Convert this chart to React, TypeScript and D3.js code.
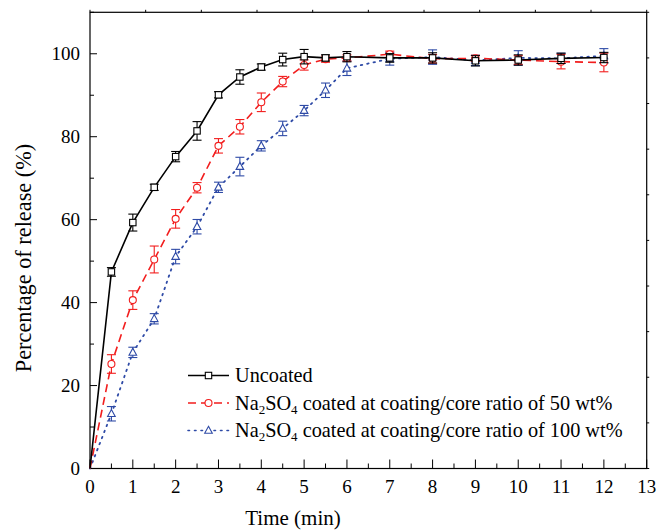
import React from "react";
import * as d3 from "d3";

const times = [0, 0.5, 1, 1.5, 2, 2.5, 3, 3.5, 4, 4.5, 5, 5.5, 6, 7, 8, 9, 10, 11, 12];
const uncoated = [0, 47.4, 59.3, 67.8, 75.2, 81.4, 90.1, 94.4, 96.8, 98.6, 99.3, 99.0, 99.3, 99.0, 99.0, 98.3, 98.5, 98.9, 99.1];
const uncoatedErr = [0, 0.8, 1.8, 0.5, 1.0, 2.0, 0.5, 1.5, 0.5, 1.3, 1.5, 0.5, 1.0, 0.8, 1.0, 1.0, 1.0, 1.0, 1.0];
const coated50 = [0, 25.2, 40.6, 50.4, 60.2, 67.7, 77.8, 82.4, 88.3, 93.3, 97.3, 98.7, 99.0, 99.9, 98.8, 98.9, 98.5, 98.1, 97.9];
const coated50Err = [0, 2.0, 2.0, 3.0, 2.0, 1.0, 1.5, 1.5, 2.0, 1.0, 1.0, 0.5, 0.5, 0.5, 0.8, 0.5, 0.8, 1.5, 2.0];
const coated100 = [0, 13.2, 28.0, 36.1, 51.1, 58.3, 67.8, 72.8, 77.8, 82.0, 86.3, 91.2, 96.5, 98.8, 99.2, 98.4, 99.0, 98.9, 99.5];
const coated100Err = [0, 1.5, 1.0, 1.0, 1.5, 1.5, 1.0, 2.0, 1.0, 1.5, 1.0, 1.5, 1.5, 1.3, 1.5, 1.0, 1.5, 1.0, 1.5];

const xTicks = [0, 1, 2, 3, 4, 5, 6, 7, 8, 9, 10, 11, 12, 13];
const yTicks = [0, 20, 40, 60, 80, 100];

const W = 657, H = 530;
const L = 90, R = 646.7, T = 12.3, B = 468.5;
const FONT = '"Liberation Serif", "Times New Roman", serif';

const BLACK = "#000";
const RED = "#f21d1d";
const BLUE = "#2e4aa6";

type Series = { vals: number[]; errs: number[]; color: string; marker: string; dash: string; name: string };

export default function App() {
  const x = d3.scaleLinear().domain([0, 13]).range([L, R]);
  const y = d3.scaleLinear().domain([0, 110]).range([B, T]);

  const series: Series[] = [
    { vals: coated100, errs: coated100Err, color: BLUE, marker: "tri", dash: "1.5 5", name: "100" },
    { vals: coated50, errs: coated50Err, color: RED, marker: "circ", dash: "8 5", name: "50" },
    { vals: uncoated, errs: uncoatedErr, color: BLACK, marker: "sq", dash: "", name: "un" },
  ];

  const line = d3.line<number>().x((_, i) => x(times[i])).y((v) => y(v));

  const marker = (m: string, cx: number, cy: number, color: string, key: string) => {
    if (m === "sq") return <rect key={key} x={cx - 3.2} y={cy - 3.2} width={6.4} height={6.4} fill="#fff" stroke={color} strokeWidth={1.1} />;
    if (m === "circ") return <circle key={key} cx={cx} cy={cy} r={3.5} fill="#fff" stroke={color} strokeWidth={1.1} />;
    return <path key={key} d={`M${cx},${cy - 4.2}L${cx + 3.8},${cy + 2.8}L${cx - 3.8},${cy + 2.8}Z`} fill="#fff" stroke={color} strokeWidth={1.1} />;
  };

  const minorX = d3.range(0, 13.01, 0.5);
  const minorY = d3.range(0, 110.01, 10);
  const topTicks = d3.range(0, 10.01, 1).map((i) => i * 1.3);
  const rightTicks = d3.range(0, 10.01, 1).map((i) => i * 11);

  const txt = { fontFamily: FONT };

  const legendRows = [
    { color: BLACK, marker: "sq", dash: "", label: <tspan>Uncoated</tspan> },
    {
      color: RED, marker: "circ", dash: "8 5",
      label: <>
        <tspan>Na</tspan><tspan fontSize={13} dy={4}>2</tspan><tspan dy={-4}>SO</tspan><tspan fontSize={13} dy={4}>4</tspan><tspan dy={-4}> coated at coating/core ratio of 50 wt%</tspan>
      </>,
    },
    {
      color: BLUE, marker: "tri", dash: "1.5 5",
      label: <>
        <tspan>Na</tspan><tspan fontSize={13} dy={4}>2</tspan><tspan dy={-4}>SO</tspan><tspan fontSize={13} dy={4}>4</tspan><tspan dy={-4}> coated at coating/core ratio of 100 wt%</tspan>
      </>,
    },
  ];

  return (
    <svg width={W} height={H} style={{ position: "absolute", left: 0, top: 0, background: "#fff", fontFamily: FONT }}>
      <rect x={0} y={0} width={W} height={H} fill="#fff" />
      <rect x={L} y={T} width={R - L} height={B - T} fill="none" stroke="#000" strokeWidth={1.2} />
      {minorX.map((t) => (
        <line key={"bx" + t} x1={x(t)} x2={x(t)} y1={B} y2={B - (Number.isInteger(t) ? 9 : 5)} stroke="#000" strokeWidth={1} />
      ))}
      {xTicks.map((t) => (
        <text key={"xl" + t} style={txt} x={x(t)} y={B + 24.5} textAnchor="middle" fontSize={19}>{t}</text>
      ))}
      {minorY.map((t) => (
        <line key={"ly" + t} x1={L} x2={L + (t % 20 === 0 ? 7 : 4)} y1={y(t)} y2={y(t)} stroke="#000" strokeWidth={1} />
      ))}
      {yTicks.map((t) => (
        <text key={"yl" + t} style={txt} x={L - 10} y={y(t)} dy="0.35em" textAnchor="end" fontSize={19}>{t}</text>
      ))}
      {topTicks.map((t, i) => (
        <line key={"tt" + i} x1={x(t)} x2={x(t)} y1={T} y2={T - 2.5} stroke="#000" strokeWidth={1} />
      ))}
      {rightTicks.map((t, i) => (
        <line key={"rt" + i} x1={R} x2={R + 2.5} y1={y(t)} y2={y(t)} stroke="#000" strokeWidth={1} />
      ))}
      <text style={txt} x={293} y={525} textAnchor="middle" fontSize={21}>Time (min)</text>
      <text style={txt} transform={`translate(31,${258}) rotate(-90)`} textAnchor="middle" fontSize={22.3}>Percentage of release (%)</text>

      {series.map((s) => (
        <g key={s.name}>
          <path d={line(s.vals) || ""} fill="none" stroke={s.color} strokeWidth={s.dash === "1.5 5" ? 1.8 : 1.6} strokeDasharray={s.dash} strokeLinecap={s.dash === "1.5 5" ? "round" : "butt"} />
          {s.vals.map((v, i) => {
            if (i === 0) return null;
            const cx = x(times[i]);
            const e = s.errs[i];
            return (
              <g key={i} stroke={s.color} strokeWidth={1.1}>
                <line x1={cx} x2={cx} y1={y(v + e) - 1} y2={y(v - e) + 1} />
                <line x1={cx - 4.5} x2={cx + 4.5} y1={y(v + e) - 1} y2={y(v + e) - 1} />
                <line x1={cx - 4.5} x2={cx + 4.5} y1={y(v - e) + 1} y2={y(v - e) + 1} />
              </g>
            );
          })}
          {s.vals.map((v, i) => (i === 0 ? null : marker(s.marker, x(times[i]), y(v), s.color, "m" + i)))}
        </g>
      ))}

      {legendRows.map((r, i) => {
        const ly = 375.5 + i * 27.5;
        return (
          <g key={"lg" + i}>
            <line x1={188} x2={229} y1={ly} y2={ly} stroke={r.color} strokeWidth={1.6} strokeDasharray={r.dash} strokeLinecap={r.dash === "1.5 5" ? "round" : "butt"} />
            {marker(r.marker, 208.5, ly, r.color, "lm" + i)}
            <text style={txt} x={235} y={ly + 6.5} fontSize={20.3}>{r.label}</text>
          </g>
        );
      })}
    </svg>
  );
}
